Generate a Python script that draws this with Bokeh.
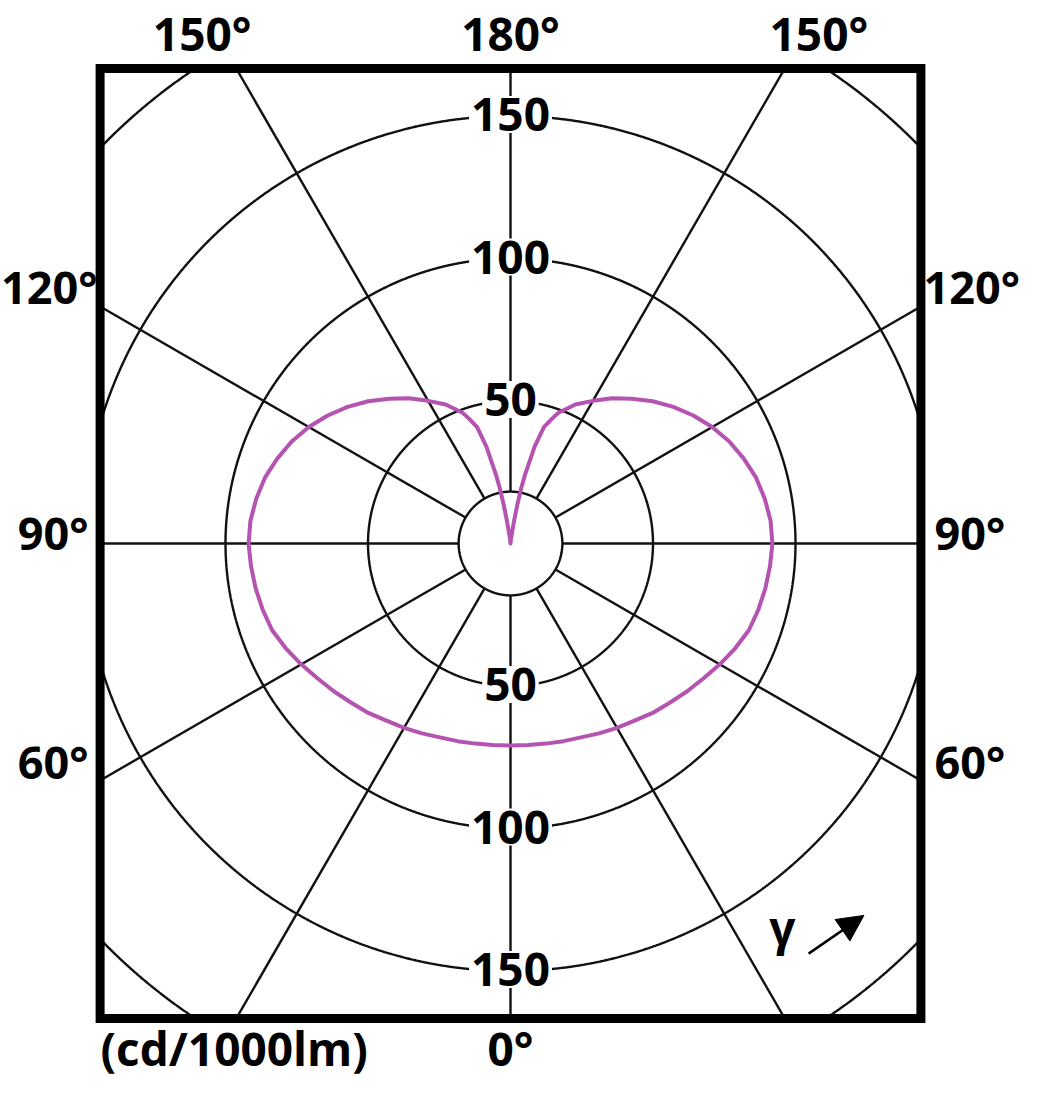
import numpy as np
from bokeh.plotting import figure
from bokeh.models import Range1d, Arrow, NormalHead
from bokeh.core.properties import value
from bokeh.embed import file_html
from bokeh.resources import INLINE

# ---- data ----
gamma_deg = [0, 5, 10, 15, 20, 25, 30, 35, 40, 45, 50, 55, 60, 65, 70, 75, 80, 85, 90,
             95, 100, 105, 110, 115, 120, 125, 130, 135, 140, 145, 150, 155, 160, 162,
             164, 166, 168, 169, 170, 171, 172, 174, 176, 180]
intensity = [70.9, 71.0, 71.3, 71.8, 72.4, 73.5, 74.7, 75.9, 77.6, 79.0, 80.8, 82.6, 84.8,
             87.0, 89.0, 90.0, 90.8, 91.4, 91.9, 91.6, 90.6, 89.2, 87.1, 84.7, 81.7, 78.3,
             74.6, 70.6, 66.3, 62.2, 57.8, 53.8, 48.7, 45.5, 42.5, 35.0, 25.0, 20.0, 14.0,
             8.0, 4.0, 1.5, 0.5, 0.0]
ring_values = [50, 100, 150, 200]
ring_labels = ["50", "100", "150"]
spoke_angles = list(range(0, 360, 30))
side_angle_labels = ["120°", "90°", "60°"]
top_angle_labels = ["150°", "180°", "150°"]
unit_label = "(cd/1000lm)"
bottom_angle_label = "0°"

# ---- geometry / styling ----
S = 2.85                      # px per cd
W, H = 1042, 1080
CX, CY = 510, 543             # centre in figure px
FX, FY = 144.0, 166.7         # half-size of frame (cd units)
R0 = 18.2                     # inner circle radius
FONT = value("Open Sans")
FS = "46px"
FS_SIDE = "45px"
INK = "#111111"
DY = 6.5                      # baseline correction for text (cd units)


def py(page_y):
    """figure pixel row -> data y"""
    return (CY - page_y) / S


p = figure(width=W, height=H, output_backend="svg", toolbar_location=None,
           x_range=Range1d(-CX / S, (W - CX) / S), y_range=Range1d(-(H - CY) / S, CY / S),
           min_border=0, min_border_left=0, min_border_right=0,
           min_border_top=0, min_border_bottom=0)
p.axis.visible = False
p.grid.visible = False
p.outline_line_color = None
p.background_fill_color = "white"
p.border_fill_color = "white"

# spokes (clipped at the frame)
xs, ys = [], []
for a in spoke_angles:
    t = np.radians(a)
    sx, sy = np.sin(t), -np.cos(t)
    lim = min(FX / abs(sx) if abs(sx) > 1e-9 else 1e9, FY / abs(sy) if abs(sy) > 1e-9 else 1e9)
    xs.append([R0 * sx, lim * sx])
    ys.append([R0 * sy, lim * sy])
p.multi_line(xs=xs, ys=ys, line_color=INK, line_width=2.4)

# rings (clipped at the frame)
th = np.linspace(0, 2 * np.pi, 2881)
rxs, rys = [], []
for rv in ring_values + [R0]:
    x = rv * np.cos(th)
    y = rv * np.sin(th)
    inside = (np.abs(x) <= FX) & (np.abs(y) <= FY)
    x = np.where(inside, x, np.nan)
    y = np.where(inside, y, np.nan)
    rxs.append(x)
    rys.append(y)
p.multi_line(xs=rxs, ys=rys, line_color=INK, line_width=2.4)

# intensity curve (symmetric)
g = np.radians(np.array(gamma_deg, dtype=float))
r = np.array(intensity, dtype=float)
x_right = r * np.sin(g)
y_right = -r * np.cos(g)
cx = np.concatenate([x_right, -x_right[::-1]])
cy = np.concatenate([y_right, y_right[::-1]])
p.line(cx, cy, line_color="#b553b0", line_width=4, line_join="round")

# frame
p.rect(x=0, y=0, width=2 * FX, height=2 * FY, fill_color=None,
       line_color="black", line_width=9, line_join="miter")

common = dict(text_font=FONT, text_font_style="bold",
              text_baseline="alphabetic", text_color="black")

# ring value labels on the vertical axis
lab_y = [v - 6 + DY for v in ring_values[:3]] + [-v - 6 + DY for v in ring_values[:3]]
p.text(x=[0] * 6, y=lab_y, text=ring_labels + ring_labels, text_align="center",
       text_font_size=FS, background_fill_color="white", padding=2, **common)

# angle labels
top_y = py(51) + DY
p.text(x=[-108.2, 0, 108.2], y=[top_y] * 3, text=top_angle_labels,
       text_align="center", text_font_size=FS, **common)
side_y = [py(305) + DY, py(551) + DY, py(780) + DY]
p.text(x=[(97 - CX) / S, (88 - CX) / S, (88 - CX) / S], y=side_y, text=side_angle_labels,
       text_align="right", text_font_size=FS_SIDE, **common)
p.text(x=[(923 - CX) / S, (934 - CX) / S, (934 - CX) / S], y=side_y, text=side_angle_labels,
       text_align="left", text_font_size=FS_SIDE, **common)
bot_y = py(1066) + DY
p.text(x=[(100 - CX) / S], y=[bot_y], text=[unit_label], text_align="left",
       text_font_size=FS, **common)
p.text(x=[0], y=[bot_y], text=[bottom_angle_label], text_align="center",
       text_font_size=FS, **common)

# gamma indicator
p.text(x=[95.4], y=[-141.1 + DY], text=["γ"], text_align="center",
       text_font_size=FS, **common)
p.add_layout(Arrow(x_start=104.6, y_start=-143.9, x_end=124.0, y_end=-130.5,
                   line_width=2.5, line_color="black",
                   end=NormalHead(size=26, fill_color="black", line_color="black")))

open("out.html", "w").write(file_html(p, INLINE))
